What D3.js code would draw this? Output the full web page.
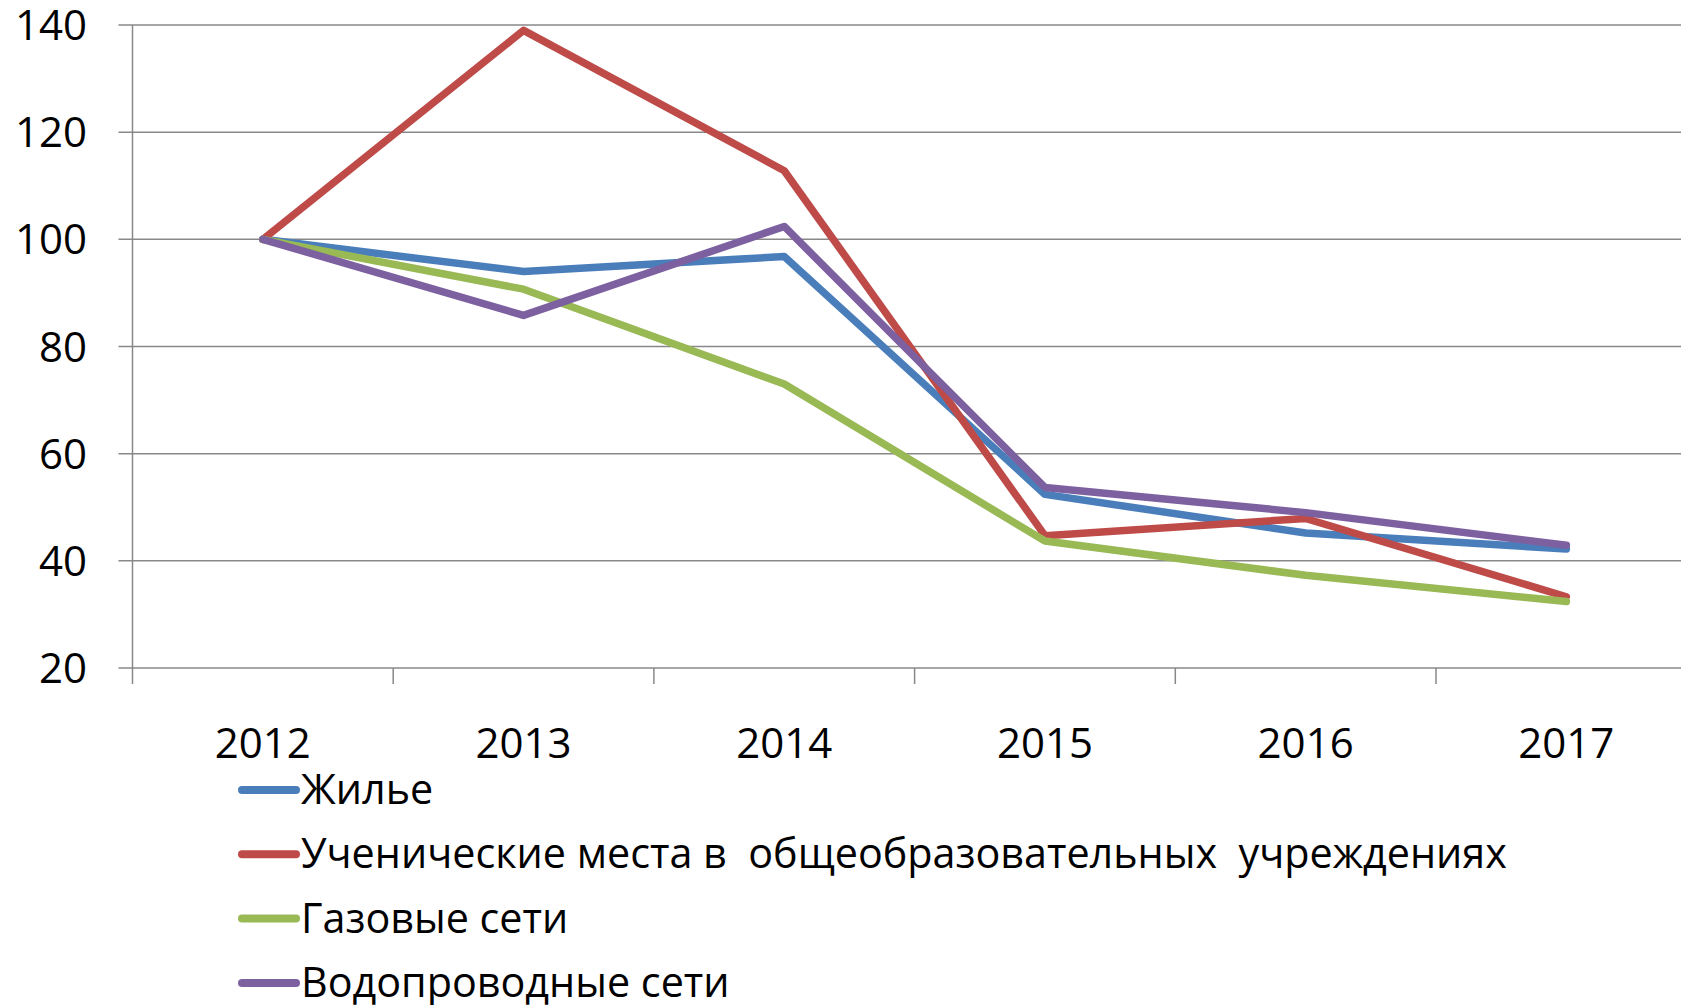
<!DOCTYPE html>
<html>
<head>
<meta charset="utf-8">
<script src="https://cdn.jsdelivr.net/npm/d3@7"></script>
<style>
  body { margin: 0; background: #fff; }
  svg text { font-family: "Open Sans", "Noto Sans", sans-serif; fill: #000; }
</style>
</head>
<body>
<div id="chart"></div>
<script>
// chart data
const years = ["2012", "2013", "2014", "2015", "2016", "2017"];
const housing = [100, 94, 96.8, 52.4, 45.2, 42.2];
const schoolPlaces = [100, 139, 112.8, 44.7, 47.9, 33.3];
const gasNetworks = [100, 90.7, 73, 43.7, 37.3, 32.4];
const waterNetworks = [100, 85.8, 102.4, 53.7, 49, 42.9];
const yTicks = [20, 40, 60, 80, 100, 120, 140];

const seriesNames = ["Жилье", "Ученические места в  общеобразовательных  учреждениях", "Газовые сети", "Водопроводные сети"];
const seriesColors = ["#4a7ebb", "#be4b48", "#98b954", "#7d60a0"];
const seriesValues = [housing, schoolPlaces, gasNetworks, waterNetworks];

function drawChart() {
    const width = 1681;
    const height = 1005;
    const left = 132.5;
    const band = 260.7;

    const svg = d3.select("#chart")
        .append("svg")
        .attr("width", width)
        .attr("height", height);

    const x = d3.scaleBand()
        .domain(years)
        .range([left, left + band * years.length]);

    const y = d3.scaleLinear()
        .domain([20, 140])
        .range([668, 25]);

    // horizontal gridlines
    svg.append("g")
        .selectAll("line")
        .data(yTicks)
        .join("line")
        .attr("x1", left - 14)
        .attr("x2", width)
        .attr("y1", d => y(d))
        .attr("y2", d => y(d))
        .attr("stroke", "#888")
        .attr("stroke-width", 1.5);

    // y axis line
    svg.append("line")
        .attr("x1", left).attr("x2", left)
        .attr("y1", y(140)).attr("y2", y(20) + 16)
        .attr("stroke", "#888")
        .attr("stroke-width", 1.5);

    // x axis ticks between categories
    const tickPos = years.map(d => x(d)).slice(1);
    svg.append("g")
        .selectAll("line")
        .data(tickPos)
        .join("line")
        .attr("x1", d => d).attr("x2", d => d)
        .attr("y1", y(20)).attr("y2", y(20) + 16)
        .attr("stroke", "#888")
        .attr("stroke-width", 1.5);

    // y labels
    svg.append("g")
        .selectAll("text")
        .data(yTicks)
        .join("text")
        .attr("x", 87)
        .attr("y", d => y(d))
        .attr("dy", "0.36em")
        .attr("text-anchor", "end")
        .style("font-size", "42px")
        .text(d => d);

    // x labels
    svg.append("g")
        .selectAll("text")
        .data(years)
        .join("text")
        .attr("x", d => x(d) + x.bandwidth() / 2)
        .attr("y", 758)
        .attr("text-anchor", "middle")
        .style("font-size", "42px")
        .text(d => d);

    // series lines
    const line = d3.line()
        .x((d, i) => x(years[i]) + x.bandwidth() / 2)
        .y(d => y(d));

    svg.append("g")
        .selectAll("path")
        .data(seriesValues)
        .join("path")
        .attr("d", d => line(d))
        .attr("fill", "none")
        .attr("stroke", (d, i) => seriesColors[i])
        .attr("stroke-width", 7.5)
        .attr("stroke-linecap", "round")
        .attr("stroke-linejoin", "round");

    // legend
    const legend = svg.append("g")
        .selectAll("g")
        .data(seriesNames)
        .join("g")
        .attr("transform", (d, i) => `translate(0, ${790 + i * 64.3})`);

    legend.append("line")
        .attr("x1", 242).attr("x2", 296)
        .attr("y1", 0).attr("y2", 0)
        .attr("stroke", (d, i) => seriesColors[i])
        .attr("stroke-width", 8)
        .attr("stroke-linecap", "round");

    legend.append("text")
        .attr("x", 301)
        .attr("y", 14)
        .style("font-size", "41.3px")
        .style("white-space", "pre")
        .text(d => d);
}

drawChart();
</script>
</body>
</html>
